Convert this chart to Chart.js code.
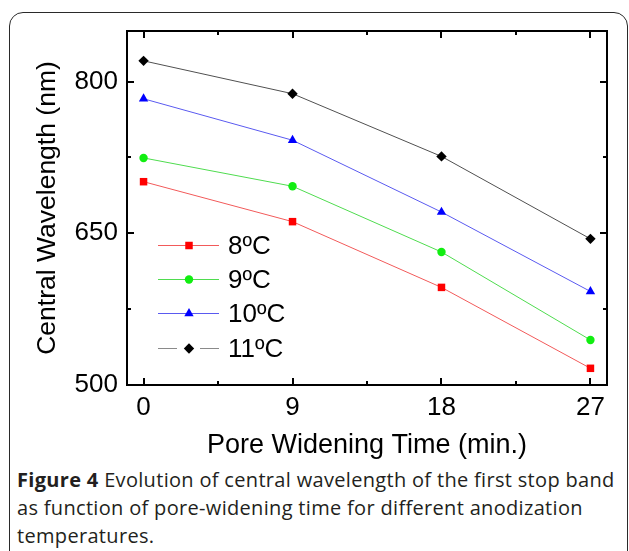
<!DOCTYPE html>
<html>
<head>
<meta charset="utf-8">
<script src="https://cdn.jsdelivr.net/npm/chart.js@4.4.1/dist/chart.umd.min.js"></script>
<style>
html,body{margin:0;padding:0;background:#fff;width:629px;height:551px;overflow:hidden;position:relative}
#frame{position:absolute;left:9px;top:12px;width:619px;height:620px;border:1.5px solid #2a2a2a;border-radius:14px;box-sizing:border-box}
#wrap{position:absolute;left:0;top:0;width:629px;height:465px}
#caption{position:absolute;left:17px;top:466px;width:612px;font-family:"Open Sans",sans-serif;font-size:20px;letter-spacing:0.32px;line-height:28px;color:#231f20;white-space:nowrap}
#caption b{font-weight:700}
</style>
</head>
<body>
<div id="frame"></div>
<div id="wrap"><canvas id="c" width="629" height="465"></canvas></div>
<div id="caption"><b>Figure 4</b> Evolution of central wavelength of the first stop band<br>as function of pore-widening time for different anodization<br>temperatures.</div>
<script>
// ---- data ----
const times = [0, 9, 18, 27];
const seriesLabels = ['8ºC', '9ºC', '10ºC', '11ºC'];
const wl8 = [701, 661.5, 596.5, 516.5];
const wl9 = [724.5, 696.5, 631.5, 544.5];
const wl10 = [783, 742, 671, 592.5];
const wl11 = [820.5, 788, 726, 644.5];
const xMajorTicks = [0, 9, 18, 27];
const xMinorTicks = [4.5, 13.5, 22.5];
const yMajorTicks = [500, 650, 800];
const yMinorTicks = [575, 725];

const FONT = '"Liberation Sans", Arial, sans-serif';
const styles = [
  {line: '#f25a5a', fill: '#ff0000', point: 'rect', r: 5.3},
  {line: '#4fdc4f', fill: '#11ee11', point: 'circle', r: 4.2},
  {line: '#5a5af0', fill: '#0000ff', point: 'triangle', r: 5.4},
  {line: '#505050', fill: '#000000', point: 'rectRot', r: 5.2}
];
const seriesData = [wl8, wl9, wl10, wl11];

const datasets = seriesData.map((vals, i) => ({
  label: seriesLabels[i],
  data: times.map((t, k) => ({x: t, y: vals[k]})),
  borderColor: styles[i].line,
  borderWidth: 1,
  backgroundColor: styles[i].fill,
  pointBackgroundColor: styles[i].fill,
  pointBorderColor: styles[i].fill,
  pointBorderWidth: 0,
  pointStyle: styles[i].point,
  pointRadius: styles[i].r,
  tension: 0,
  fill: false
}));

function drawMarker(ctx, style, r, x, y, color) {
  ctx.save();
  ctx.fillStyle = color;
  ctx.beginPath();
  if (style === 'rect') {
    const s = r * Math.SQRT1_2;
    ctx.rect(x - s, y - s, 2 * s, 2 * s);
  } else if (style === 'circle') {
    ctx.arc(x, y, r, 0, Math.PI * 2);
  } else if (style === 'triangle') {
    ctx.moveTo(x, y - r);
    ctx.lineTo(x + r * Math.sin(Math.PI / 3), y + r * 0.5);
    ctx.lineTo(x - r * Math.sin(Math.PI / 3), y + r * 0.5);
    ctx.closePath();
  } else {
    ctx.moveTo(x, y - r);
    ctx.lineTo(x + r, y);
    ctx.lineTo(x, y + r);
    ctx.lineTo(x - r, y);
    ctx.closePath();
  }
  ctx.fill();
  ctx.restore();
}

const tickPlugin = {
  id: 'insideTicks',
  afterDraw(chart) {
    const {ctx, chartArea: a, scales} = chart;
    const xs = scales.x, ys = scales.y;
    ctx.save();
    ctx.strokeStyle = '#000';
    ctx.lineWidth = 2;
    ctx.beginPath();
    const xt = (v, len) => {
      const px = Math.round(xs.getPixelForValue(v));
      ctx.moveTo(px, a.bottom); ctx.lineTo(px, a.bottom - len);
      ctx.moveTo(px, a.top); ctx.lineTo(px, a.top + len);
    };
    const yt = (v, len) => {
      const py = Math.round(ys.getPixelForValue(v));
      ctx.moveTo(a.left, py); ctx.lineTo(a.left + len, py);
      ctx.moveTo(a.right, py); ctx.lineTo(a.right - len, py);
    };
    xMajorTicks.forEach(v => xt(v, 7));
    xMinorTicks.forEach(v => xt(v, 4));
    yMajorTicks.forEach(v => yt(v, 7));
    yMinorTicks.forEach(v => yt(v, 4));
    ctx.stroke();
    ctx.restore();
  }
};

const legendPlugin = {
  id: 'innerLegend',
  afterDatasetsDraw(chart) {
    const {ctx, chartArea: a} = chart;
    const x0 = a.left + 31, x1 = a.left + 92, xm = a.left + 62, xt = a.left + 101;
    const yStart = a.bottom - 140, step = 34.2;
    ctx.save();
    chart.data.datasets.forEach((ds, i) => {
      const y = Math.round(yStart + i * step) + 0.5;
      ctx.strokeStyle = i === 3 ? '#8a8a8a' : ds.borderColor;
      ctx.lineWidth = 1;
      ctx.beginPath();
      if (i === 3) {
        ctx.moveTo(x0, y); ctx.lineTo(x0 + 19, y);
        ctx.moveTo(x1 - 19, y); ctx.lineTo(x1, y);
      } else {
        ctx.moveTo(x0, y); ctx.lineTo(x1, y);
      }
      ctx.stroke();
      drawMarker(ctx, ds.pointStyle, ds.pointRadius, xm, y, ds.pointBackgroundColor);
      ctx.fillStyle = '#000';
      ctx.font = '26px ' + FONT;
      ctx.textBaseline = 'middle';
      ctx.textAlign = 'left';
      ctx.fillText(ds.label, xt, y + 1);
    });
    ctx.restore();
  }
};

new Chart(document.getElementById('c'), {
  type: 'line',
  data: {datasets},
  options: {
    responsive: false,
    animation: false,
    devicePixelRatio: 1,
    layout: {padding: 0},
    plugins: {legend: {display: false}, tooltip: {enabled: false}, title: {display: false}},
    scales: {
      x: {
        type: 'linear', position: 'bottom', min: -1, max: 28,
        afterBuildTicks: s => { s.ticks = xMajorTicks.map(v => ({value: v})); },
        afterFit: s => { s.height = 465 - 385; },
        grid: {display: true, drawOnChartArea: false, drawTicks: false},
        border: {display: true, color: '#000', width: 2},
        ticks: {color: '#000', font: {family: FONT, size: 26}, padding: 7, maxRotation: 0, autoSkip: false},
        title: {display: true, text: 'Pore Widening Time (min.)', color: '#000', font: {family: FONT, size: 27}, padding: {top: 4, bottom: 3}}
      },
      x2: {
        type: 'linear', position: 'top', min: -1, max: 28,
        afterFit: s => { s.height = 31; },
        grid: {display: true, drawOnChartArea: false, drawTicks: false},
        border: {display: true, color: '#000', width: 2},
        ticks: {display: false}
      },
      y: {
        type: 'linear', position: 'left', min: 500, max: 850,
        afterBuildTicks: s => { s.ticks = yMajorTicks.map(v => ({value: v})); },
        afterFit: s => { s.width = 127; },
        grid: {display: true, drawOnChartArea: false, drawTicks: false},
        border: {display: true, color: '#000', width: 2},
        ticks: {color: '#000', font: {family: FONT, size: 26}, padding: 9},
        title: {display: true, text: 'Central Wavelength (nm)', color: '#000', font: {family: FONT, size: 26.5}, padding: {top: 32, bottom: 0}}
      },
      y2: {
        type: 'linear', position: 'right', min: 500, max: 850,
        afterFit: s => { s.width = 629 - 607; },
        grid: {display: true, drawOnChartArea: false, drawTicks: false},
        border: {display: true, color: '#000', width: 2},
        ticks: {display: false}
      }
    }
  },
  plugins: [tickPlugin, legendPlugin]
});
</script>
</body>
</html>
